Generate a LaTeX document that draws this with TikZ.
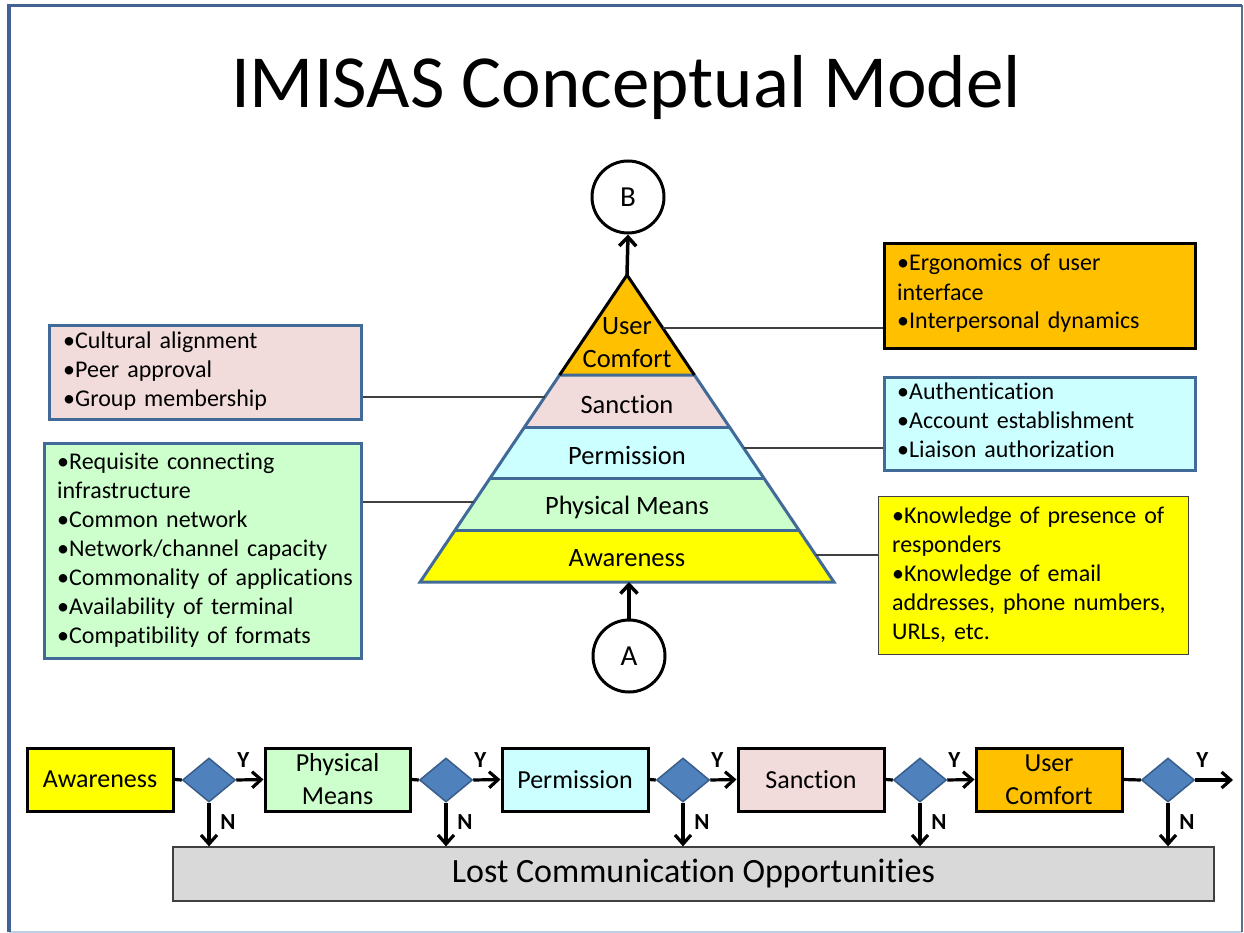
\documentclass[tikz,border=0pt]{standalone}
\usepackage{fontspec}
\setmainfont{Carlito}[Ligatures=NoCommon]
\newfontfamily\bulfont{Carlito}[Ligatures=NoCommon,WordSpace=0.85]
\usetikzlibrary{arrows.meta,shapes.geometric}
\definecolor{frameblue}{RGB}{66,98,148}
\definecolor{framelight}{RGB}{190,208,230}
\definecolor{pyrline}{RGB}{65,106,152}
\definecolor{ucfill}{RGB}{255,192,0}
\definecolor{sancfill}{RGB}{242,220,219}
\definecolor{permfill}{RGB}{204,255,255}
\definecolor{physfill}{RGB}{204,255,204}
\definecolor{awfill}{RGB}{255,255,0}
\definecolor{diafill}{RGB}{79,129,189}
\definecolor{dialine}{RGB}{56,93,138}
\definecolor{lostfill}{RGB}{217,217,217}
\definecolor{thinline}{RGB}{64,64,64}
\begin{document}
\begin{tikzpicture}[x=1pt,y=-1pt,
  bultext/.style={anchor=base west, inner sep=0pt, text width=300pt, align=left, font=\bulfont\fontsize{24}{29}\selectfont},
  sidebox/.style={draw=pyrline, line width=3pt, anchor=north west, inner sep=0pt},
  pyrtext/.style={anchor=base, inner sep=0pt, font=\fontsize{26.5}{33}\selectfont},
  pyredge/.style={draw=pyrline, line width=3pt, line join=miter},
  conn/.style={draw=thinline, line width=1.3pt},
  circ/.style={circle, draw=black, line width=3pt, minimum size=72pt, inner sep=0pt, font=\fontsize{29}{33}\selectfont},
  uparrow/.style={draw=black, line width=3.5pt, -{Straight Barb[length=9pt,width=17pt]}},
  flowbox/.style={draw=black, line width=3pt, minimum width=146pt, minimum height=63pt, inner sep=0pt, align=center, font=\fontsize{26}{33}\selectfont},
  decision/.style={diamond, fill=diafill, draw=dialine, line width=1.5pt, minimum width=53pt, minimum height=44pt, inner sep=0pt},
  flowline/.style={draw=black, line width=3.2pt},
  flowarrow/.style={draw=black, line width=3.2pt, -{Straight Barb[length=9pt,width=16pt]}},
  yn/.style={inner sep=0pt, font=\fontsize{23}{26}\selectfont\bfseries}
]
\useasboundingbox (0,0) rectangle (1244,933);
% slide frame
\draw[framelight, line width=1.5pt] (9,932) -- (1242,932);
\draw[color=frameblue!60!gray, line width=1.2pt] (1242,5.5) -- (1242,932);
\draw[frameblue, line width=3.5pt] (1242,5.5) -- (9,5.5) -- (9,932);

% title
\node[anchor=base, inner sep=0pt, font=\fontsize{75}{80}\selectfont] (title) at (626,108) {IMISAS Conceptual Model};

% pyramid
\coordinate (apex) at (627,275);
\coordinate (base) at (629,582);
\fill[awfill] (420.1,582) -- (455.1,530) -- (798.9,530) -- (833.9,582) -- cycle;
\fill[physfill] (455.1,530) -- (490.2,478) -- (763.8,478) -- (798.9,530) -- cycle;
\fill[permfill] (490.2,478) -- (524.6,427) -- (729.4,427) -- (763.8,478) -- cycle;
\fill[sancfill] (524.6,427) -- (559.6,375) -- (694.4,375) -- (729.4,427) -- cycle;
\fill[ucfill] (559.6,375) -- (apex) -- (694.4,375) -- cycle;
\draw[pyredge] (420.1,582) -- (559.6,375) -- (694.4,375) -- (833.9,582) -- cycle;
\draw[pyredge] (455.1,530) -- (798.9,530);
\draw[pyredge] (490.2,478) -- (763.8,478);
\draw[pyredge] (524.6,427) -- (729.4,427);
\draw[black, line width=3pt, line join=miter] (559.6,375) -- (apex) -- (694.4,375);

\node[pyrtext, text width=120pt, align=center] (tUC) at (627,334) {User\\Comfort};
\node[pyrtext] (tSanc) at (627,413) {Sanction};
\node[pyrtext] (tPerm) at (627,464) {Permission};
\node[pyrtext] (tPhys) at (627,514) {Physical Means};
\node[pyrtext] (tAw) at (627,566) {Awareness};

% circles
\node[circ] (B) at (628,197) {B};
\node[circ] (A) at (629,656) {A};
\draw[uparrow] (apex) -- (B.south);
\draw[uparrow] (A.north) -- (base);

% side boxes
\node[sidebox, draw=black, fill=ucfill, minimum width=311pt, minimum height=105pt] (ucbox) at (883,242) {};
\node[bultext] (ucText) at (897,271) {•Ergonomics of user\\interface\\•Interpersonal dynamics};
\node[sidebox, fill=permfill, minimum width=311pt, minimum height=93pt] (permbox) at (883,376) {};
\node[bultext] (permText) at (897,399) {•Authentication\\•Account establishment\\•Liaison authorization};
\node[sidebox, draw=thinline, line width=1.3pt, fill=awfill, minimum width=310pt, minimum height=158pt] (awbox) at (878,496) {};
\node[bultext] (awText) at (892,523) {•Knowledge of presence of\\responders\\•Knowledge of email\\addresses, phone numbers,\\URLs, etc.};
\node[sidebox, fill=sancfill, minimum width=312pt, minimum height=94pt] (sancbox) at (48,324) {};
\node[bultext] (sancText) at (63,348) {•Cultural alignment\\•Peer approval\\•Group membership};
\node[sidebox, fill=physfill, minimum width=317pt, minimum height=215pt] (physbox) at (43,442) {};
\node[bultext] (physText) at (57,469) {•Requisite connecting\\infrastructure\\•Common network\\•Network/channel capacity\\•Commonality of applications\\•Availability of terminal\\•Compatibility of formats};

% connectors pyramid -> boxes
\coordinate (eUC) at (662.7,328);
\coordinate (ePerm) at (743.6,448);
\coordinate (eAw) at (815.7,555);
\coordinate (eSanc) at (544.8,397);
\coordinate (ePhys) at (474,502);
\draw[conn] (eUC) -- (eUC -| ucbox.west);
\draw[conn] (ePerm) -- (ePerm -| permbox.west);
\draw[conn] (eAw) -- (eAw -| awbox.west);
\draw[conn] (eSanc) -- (eSanc -| sancbox.east);
\draw[conn] (ePhys) -- (ePhys -| physbox.east);

% flow chart
\node[flowbox, fill=awfill] (fAw) at (100,779.5) {Awareness};
\node[flowbox, fill=physfill, minimum width=145pt] (fPhys) at (337.5,779.5) {Physical\\Means};
\node[flowbox, fill=permfill] (fPerm) at (575,779.5) {Permission};
\node[flowbox, fill=sancfill] (fSanc) at (811,779.5) {Sanction};
\node[flowbox, fill=ucfill] (fUC) at (1049,779.5) {User\\Comfort};

\node[draw=thinline, line width=1.3pt, fill=lostfill, minimum width=1041pt, minimum height=54pt, inner sep=0pt, font=\fontsize{34}{40}\selectfont] (lost) at (693.5,874) {Lost Communication Opportunities};

\node[decision] (d1) at (209,780) {};
\node[decision] (d2) at (446,780) {};
\node[decision] (d3) at (683,780) {};
\node[decision] (d4) at (920,780) {};
\node[decision] (d5) at (1168,780) {};
\coordinate (fEnd) at (1233,780);

\draw[flowline] (fAw.east) -- (d1.west);
\draw[flowline] (fPhys.east) -- (d2.west);
\draw[flowline] (fPerm.east) -- (d3.west);
\draw[flowline] (fSanc.east) -- (d4.west);
\draw[flowline] (fUC.east) -- (d5.west);

\draw[flowarrow] (d1.east) -- (fPhys.west);
\draw[flowarrow] (d2.east) -- (fPerm.west);
\draw[flowarrow] (d3.east) -- (fSanc.west);
\draw[flowarrow] (d4.east) -- (fUC.west);
\draw[flowarrow] (d5.east) -- (fEnd);

\foreach \d in {d1,d2,d3,d4,d5}{
  \draw[flowarrow] (\d.south) -- (\d.south |- lost.north);
  \node[yn] (Y\d) at ([shift={(7pt,20pt)}]\d.east) {Y};
  \node[yn] (N\d) at ([shift={(19pt,-19pt)}]\d.south) {N};
}
\end{tikzpicture}
\end{document}
